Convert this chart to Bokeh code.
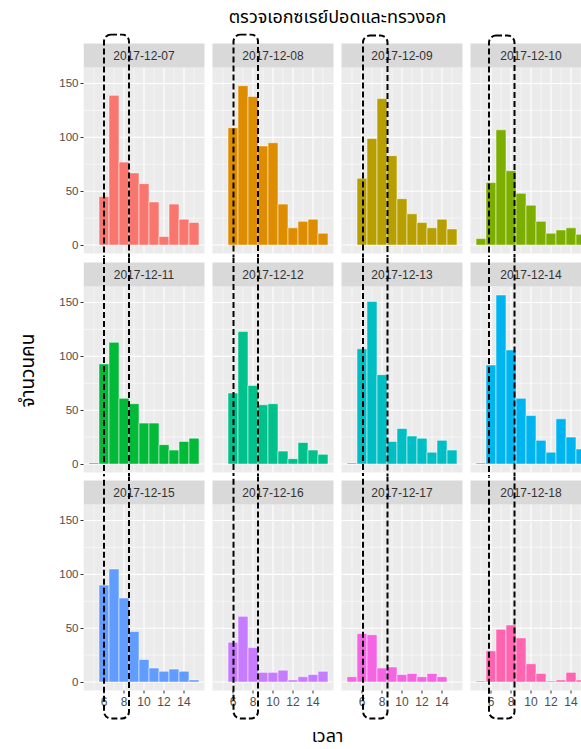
import math

from bokeh.core.properties import value
from bokeh.embed import file_html
from bokeh.layouts import column, row
from bokeh.models import BoxAnnotation, FixedTicker, Label, Range1d
from bokeh.plotting import figure
from bokeh.resources import INLINE

# ---- data: number of people per hourly bin (05:00 ... 15:00), one list per day
hours = [5, 6, 7, 8, 9, 10, 11, 12, 13, 14, 15]
dates = ["2017-12-07", "2017-12-08", "2017-12-09", "2017-12-10",
         "2017-12-11", "2017-12-12", "2017-12-13", "2017-12-14",
         "2017-12-15", "2017-12-16", "2017-12-17", "2017-12-18"]
c_1207 = [0, 45, 139, 77, 67, 57, 40, 8, 38, 24, 21]
c_1208 = [0, 109, 148, 138, 92, 95, 38, 16, 22, 24, 11]
c_1209 = [0, 62, 99, 136, 83, 43, 29, 21, 16, 24, 15]
c_1210 = [6, 58, 107, 69, 48, 37, 22, 11, 14, 16, 10]
c_1211 = [1, 93, 113, 61, 56, 38, 38, 18, 13, 21, 24]
c_1212 = [0, 66, 123, 73, 55, 56, 12, 5, 20, 13, 9]
c_1213 = [1, 107, 151, 83, 21, 33, 26, 24, 11, 22, 13]
c_1214 = [1, 92, 157, 106, 61, 45, 22, 11, 42, 25, 14]
c_1215 = [0, 90, 105, 78, 47, 21, 13, 10, 12, 10, 2]
c_1216 = [0, 37, 61, 32, 9, 9, 11, 2, 5, 7, 10]
c_1217 = [5, 45, 44, 13, 14, 7, 8, 5, 8, 5, 0]
c_1218 = [1, 29, 49, 53, 41, 17, 8, 1, 2, 9, 2]
counts = [c_1207, c_1208, c_1209, c_1210, c_1211, c_1212,
          c_1213, c_1214, c_1215, c_1216, c_1217, c_1218]
colors = ["#F8766D", "#DE8C00", "#B79F00", "#7CAE00", "#00BA38", "#00C08B",
          "#00BFC4", "#00B4F0", "#619CFF", "#C77CFF", "#F564E3", "#FF64B0"]

x_ticks = [6, 8, 10, 12, 14]
x_tick_labels = ["6", "8", "10", "12", "14"]
x_minor = [5, 7, 9, 11, 13, 15]
y_ticks = [0, 50, 100, 150]
y_minor = [25, 75, 125]

TITLE = "ตรวจเอกซเรย์ปอดและทรวงอก"
Y_TITLE = "จำนวนคน"
X_TITLE = "เวลา"

# ---- page geometry (pixels)
PAGE_W, PAGE_H = 581, 749
TITLE_H = 33
YLAB_W = 45
ROW_TOP = [TITLE_H, 257, 476]     # figure (canvas) extents per row
ROW_BOT = [257, 476, 720]
PANEL_TOP = [67, 286, 504]        # plotting area per row
PANEL_BOT = [253, 472, 690]
COL_LEFT = [45, 208, 337, 466]    # figure extents per column
COL_RIGHT = [208, 337, 466, 581]
AXIS_W = [38, 0, 0, 0]            # room for the y axis in the first column
PANEL_LEFT = [83, 212, 341, 470]
STRIP_H = 24

# data space of one panel: binned range plus 5% padding
X_START, X_END = 3.95, 16.05
Y_START, Y_END = -7.85, 164.85
PX_X = 121 / (X_END - X_START)
PX_Y = (PANEL_BOT[0] - PANEL_TOP[0]) / (Y_END - Y_START)

# dashed frame around the 06:00-08:30 window in every column
HILITE = [(6.0, 8.5), (6.05, 8.5), (6.1, 8.55), (5.8, 8.35)]
HILITE_TOP = [34, 34, 35, 35]     # page y of the rounded top ends
HILITE_BOTTOM = 718               # page y of the rounded bottom ends

SANS = "Liberation Sans"
THAI = "Noto Sans Thai, Tahoma, Noto Sans, sans-serif"


def make_panel(r, c):
    i = r * 4 + c
    frame_left = COL_LEFT[c] + AXIS_W[c]
    x0 = X_START - (PANEL_LEFT[c] - frame_left) / PX_X
    x1 = x0 + (COL_RIGHT[c] - frame_left) / PX_X
    y0 = Y_START - (ROW_BOT[r] - PANEL_BOT[r]) / PX_Y
    y1 = Y_END + (PANEL_TOP[r] - ROW_TOP[r]) / PX_Y

    p = figure(
        width=COL_RIGHT[c] - COL_LEFT[c], height=ROW_BOT[r] - ROW_TOP[r],
        x_range=Range1d(x0, x1), y_range=Range1d(y0, y1),
        x_axis_location=None, y_axis_location="left" if c == 0 else None,
        min_border=0, min_border_left=AXIS_W[c],
        background_fill_color="white", border_fill_color="white",
        outline_line_color=None, toolbar_location=None,
        output_backend="svg", title=None,
    )
    p.grid.visible = False

    if c == 0:
        ax = p.yaxis[0]
        ax.ticker = FixedTicker(ticks=y_ticks)
        ax.axis_line_color = None
        ax.major_tick_in = 0
        ax.major_tick_out = 3
        ax.major_tick_line_color = "#333333"
        ax.minor_tick_line_color = None
        ax.major_label_text_font = SANS
        ax.major_label_text_font_size = "11.5px"
        ax.major_label_text_color = "#4D4D4D"
        ax.major_label_standoff = 2

    # panel background and ggplot-style grid
    p.quad(left=X_START, right=X_END, bottom=Y_START, top=Y_END,
           fill_color="#EBEBEB", line_color=None)
    p.segment(x0=x_minor, x1=x_minor, y0=Y_START, y1=Y_END,
              line_color="white", line_width=0.55)
    p.segment(x0=X_START, x1=X_END, y0=y_minor, y1=y_minor,
              line_color="white", line_width=0.55)
    p.segment(x0=x_ticks, x1=x_ticks, y0=Y_START, y1=Y_END,
              line_color="white", line_width=1.1)
    p.segment(x0=X_START, x1=X_END, y0=y_ticks, y1=y_ticks,
              line_color="white", line_width=1.1)

    # histogram bars
    xs = [h for h, n in zip(hours, counts[i]) if n > 0]
    ns = [n for n in counts[i] if n > 0]
    p.vbar(x=xs, width=1.0, top=ns, bottom=0, fill_color=colors[i],
           line_color="white", line_alpha=0.5, line_width=1)

    # facet strip with the date
    strip_top = Y_END + STRIP_H / PX_Y
    p.quad(left=X_START, right=X_END, bottom=Y_END, top=strip_top,
           fill_color="#D9D9D9", line_color=None)
    p.text(x=[(X_START + X_END) / 2], y=[(Y_END + strip_top) / 2],
           text=[dates[i]], text_align="center", text_baseline="middle",
           text_font=value(SANS), text_font_size="12px",
           text_color="#333333")

    # x axis of the bottom row
    if r == 2:
        p.segment(x0=x_ticks, x1=x_ticks, y0=Y_START, y1=Y_START - 3 / PX_Y,
                  line_color="#333333", line_width=1)
        p.text(x=x_ticks, y=Y_START - 6 / PX_Y, text=x_tick_labels,
               text_align="center", text_baseline="top",
               text_font=value(SANS), text_font_size="12px",
               text_color="#4D4D4D")

    # dashed highlight, continued from the first to the last row
    top = Y_END + (PANEL_TOP[0] - HILITE_TOP[c]) / PX_Y if r == 0 else 5000
    bottom = Y_START - (HILITE_BOTTOM - PANEL_BOT[2]) / PX_Y if r == 2 else -5000
    p.add_layout(BoxAnnotation(left=HILITE[c][0], right=HILITE[c][1],
                               top=top, bottom=bottom,
                               fill_alpha=0, line_color="black", line_alpha=1,
                               line_width=2, line_dash="6 3",
                               border_radius=7))
    return p


def text_fig(w, h, label):
    p = figure(width=w, height=h, x_range=Range1d(0, w), y_range=Range1d(0, h),
               x_axis_location=None, y_axis_location=None, min_border=0,
               background_fill_color="white", border_fill_color="white",
               outline_line_color=None, toolbar_location=None,
               output_backend="svg", title=None)
    p.grid.visible = False
    p.add_layout(label)
    return p


title_fig = text_fig(PAGE_W, TITLE_H,
                     Label(x=337, y=TITLE_H - 17, text=TITLE,
                           text_align="center", text_baseline="middle",
                           text_font=THAI, text_font_size="18px",
                           text_color="black"))
ylab_h = ROW_BOT[2] - ROW_TOP[0]
ylab_fig = text_fig(YLAB_W, ylab_h,
                    Label(x=28, y=ROW_BOT[2] - 370, text=Y_TITLE,
                          angle=math.pi / 2, text_align="center",
                          text_baseline="middle", text_font=THAI,
                          text_font_size="19px", text_color="black"))
xlab_h = PAGE_H - ROW_BOT[2]
xlab_fig = text_fig(PAGE_W, xlab_h,
                    Label(x=327, y=xlab_h - 16, text=X_TITLE,
                          text_align="center", text_baseline="middle",
                          text_font=THAI, text_font_size="18px",
                          text_color="black"))

grid = column(*[row(*[make_panel(r, c) for c in range(4)]) for r in range(3)])
layout = column(title_fig, row(ylab_fig, grid), xlab_fig)

open("out.html", "w").write(file_html(layout, INLINE))
